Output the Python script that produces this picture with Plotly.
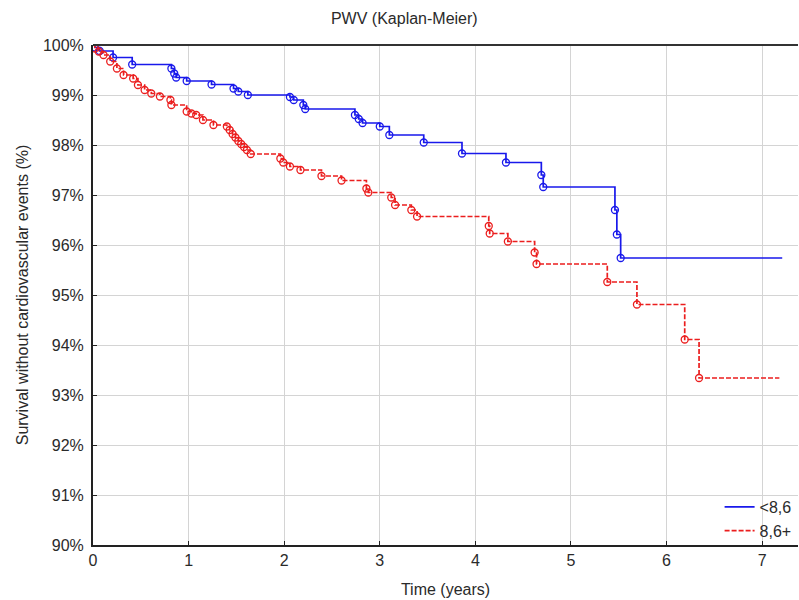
import plotly.graph_objects as go

# ---- data ----
blue_name = "<8,6"
blue_t = [0.0, 0.02, 0.07, 0.21, 0.41, 0.82, 0.85, 0.87, 0.98, 1.24, 1.47, 1.52, 1.62,
          2.06, 2.10, 2.20, 2.22, 2.74, 2.78, 2.82, 3.00, 3.10, 3.46, 3.86, 4.32,
          4.69, 4.71, 5.46, 5.48, 5.52]
blue_s = [100.0, 99.95, 99.88, 99.75, 99.61, 99.53, 99.43, 99.35, 99.28, 99.21, 99.13, 99.07, 99.00,
          98.96, 98.90, 98.80, 98.72, 98.60, 98.52, 98.44, 98.37, 98.20, 98.05, 97.83, 97.65,
          97.40, 97.16, 96.70, 96.21, 95.74]
blue_end = 7.21

red_name = "8,6+"
red_t = [0.0, 0.02, 0.06, 0.11, 0.18, 0.25, 0.32, 0.42, 0.47, 0.54, 0.61, 0.70, 0.81, 0.82,
         0.98, 1.03, 1.08, 1.15, 1.26, 1.40, 1.43, 1.46, 1.49, 1.52, 1.55, 1.58, 1.61, 1.65,
         1.96, 1.99, 2.06, 2.17, 2.39, 2.60, 2.86, 2.88, 3.12, 3.16, 3.33, 3.39,
         4.14, 4.15, 4.34, 4.62, 4.64, 5.38, 5.69, 6.19, 6.34]
red_s = [100.0, 99.93, 99.87, 99.80, 99.67, 99.53, 99.40, 99.33, 99.20, 99.10, 99.03, 98.97, 98.90, 98.80,
         98.67, 98.63, 98.60, 98.50, 98.40, 98.37, 98.30, 98.22, 98.15, 98.08, 98.02, 97.96, 97.90, 97.82,
         97.73, 97.65, 97.57, 97.50, 97.38, 97.29, 97.13, 97.05, 96.95, 96.80, 96.70, 96.57,
         96.38, 96.23, 96.07, 95.85, 95.62, 95.26, 94.81, 94.11, 93.34]
red_end = 7.18

x_ticks = [0, 1, 2, 3, 4, 5, 6, 7]
y_ticks = [90, 91, 92, 93, 94, 95, 96, 97, 98, 99, 100]
y_labels = [f"{v}%" for v in y_ticks]

BLUE = "rgb(25,25,235)"
RED = "rgb(235,30,30)"
FONT = "Liberation Sans, Arial, sans-serif"

fig = go.Figure()

for name, t, s, end, col, dash in [
    (blue_name, blue_t, blue_s, blue_end, BLUE, "solid"),
    (red_name, red_t, red_s, red_end, RED, "5px,2px"),
]:
    fig.add_trace(go.Scatter(
        x=t + [end], y=s + [s[-1]], mode="lines", line_shape="hv",
        line=dict(color=col, width=1.7, dash=dash), name=name, showlegend=True,
    ))
    fig.add_trace(go.Scatter(
        x=t[1:], y=s[1:], mode="markers",
        marker=dict(symbol="circle-open", size=7, color=col, line=dict(width=1.3, color=col)),
        showlegend=False, hoverinfo="skip",
    ))

fig.update_layout(
    width=799, height=600,
    margin=dict(l=93, r=1, t=45, b=55),
    paper_bgcolor="white", plot_bgcolor="white",
    font=dict(family=FONT, size=16, color="#2a2a2a"),
    title=dict(text="PWV (Kaplan-Meier)", x=0.506, xanchor="center", y=0.97, yanchor="middle",
               font=dict(size=16, family=FONT, color="#2a2a2a")),
    legend=dict(x=0.998, xanchor="right", y=-0.006, yanchor="bottom",
                bgcolor="rgba(0,0,0,0)", font=dict(size=16, family=FONT, color="#2a2a2a"),
                itemwidth=30, tracegroupgap=0),
)
fig.update_xaxes(
    range=[0, 7.375], tickvals=x_ticks, ticktext=[str(v) for v in x_ticks],
    showgrid=True, gridcolor="#d4d4d4", gridwidth=1,
    showline=True, linecolor="#222", linewidth=2,
    ticks="inside", ticklen=4, tickcolor="#222",
    title=dict(text="Time (years)", standoff=16, font=dict(size=16)),
    zeroline=False,
)
fig.update_yaxes(
    range=[90, 100], tickvals=y_ticks, ticktext=y_labels,
    showgrid=True, gridcolor="#d4d4d4", gridwidth=1,
    showline=True, linecolor="#222", linewidth=2,
    ticks="inside", ticklen=4, tickcolor="#222", ticklabelstandoff=4,
    title=dict(text="Survival without cardiovascular events (%)", standoff=10, font=dict(size=16)),
    zeroline=False,
)
# top border line
fig.add_shape(type="line", xref="paper", yref="paper", x0=0, x1=1, y0=1, y1=1,
              line=dict(color="#333", width=2))

fig.write_html("out.html")
